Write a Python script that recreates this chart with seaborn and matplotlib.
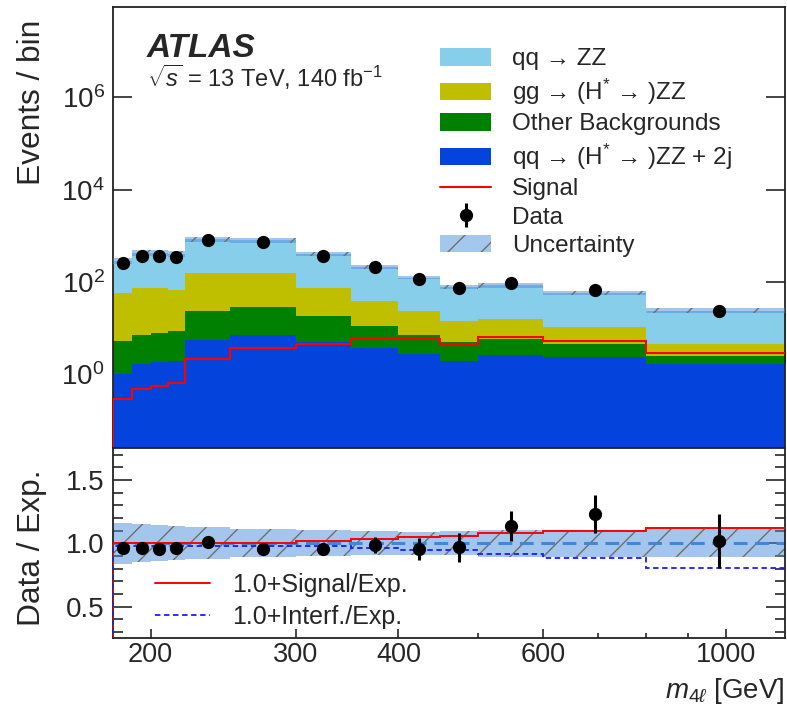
import numpy as np
import pandas as pd
import matplotlib
matplotlib.use("Agg")
import matplotlib.pyplot as plt
import seaborn as sns
from matplotlib.ticker import FixedLocator, NullLocator, NullFormatter, FixedFormatter, MultipleLocator
from matplotlib.patches import Patch
from matplotlib.lines import Line2D

# ---------------- data ----------------
bin_edges = [180, 190, 200, 210, 220, 250, 300, 350, 400, 450, 500, 600, 800, 1200]
process_keys = ["qqZZ", "ggZZ", "other", "qqZZjj"]
process_labels = ["qq → ZZ", "gg → (H$^{*}$ → )ZZ", "Other Backgrounds",
                  "qq → (H$^{*}$ → )ZZ + 2j"]
process_colors = ["#87CEEB", "#BFBF00", "#008000", "#0444DD"]

qq_zz = [233, 352, 352, 341, 690, 645, 325, 176, 102, 64, 69, 48, 19.5]
gg_zz = [52, 66, 65, 60, 137, 126, 56, 28, 16, 9.2, 10, 5.9, 2.0]
other_bkg = [4.3, 5.4, 6.0, 6.7, 18, 22, 13.5, 7.5, 4.3, 3.0, 3.1, 2.1, 0.85]
qq_zz_2j = [1.0, 1.65, 1.85, 1.9, 5.5, 7.0, 5.0, 3.7, 2.7, 1.95, 2.6, 2.4, 1.65]
signal = [0.29, 0.47, 0.56, 0.64, 2.1, 3.7, 4.6, 6.0, 5.7, 4.6, 6.3, 5.3, 2.9]
data_counts = [262, 373, 373, 344, 818, 730, 373, 209, 116, 73, 94, 67, 23.4]
data_err = [16, 19, 19, 19, 29, 27, 19, 14, 11, 8.5, 10, 8, 4.8]
rel_unc = [0.162, 0.151, 0.142, 0.136, 0.128, 0.112, 0.101, 0.096, 0.090, 0.096,
           0.105, 0.108, 0.112]

ratio_data = [0.96, 0.965, 0.955, 0.965, 1.008, 0.955, 0.955, 0.987, 0.955, 0.968,
              1.137, 1.231, 1.018]
ratio_err = [0.045, 0.04, 0.04, 0.04, 0.03, 0.03, 0.04, 0.062, 0.085, 0.113, 0.117,
             0.151, 0.21]
ratio_signal = [1.001, 1.001, 1.001, 1.002, 1.003, 1.005, 1.018, 1.031, 1.047, 1.06,
                1.079, 1.10, 1.123]
ratio_interf = [0.982, 0.982, 0.982, 0.982, 0.982, 0.982, 0.978, 0.96, 0.947, 0.945,
                0.913, 0.887, 0.808]

x_ticks = [200, 300, 400, 600, 1000]
x_minor_ticks = [500, 700, 800, 900]
y_ticks_top = [1e0, 1e2, 1e4, 1e6]

# ---------------- style ----------------
sns.set_style("ticks")
plt.rcParams["font.family"] = ["Liberation Sans", "DejaVu Sans"]
plt.rcParams["mathtext.fontset"] = "custom"
plt.rcParams["mathtext.rm"] = "Liberation Sans"
plt.rcParams["mathtext.it"] = "Liberation Sans:italic"
plt.rcParams["mathtext.bf"] = "Liberation Sans:bold"
plt.rcParams["hatch.linewidth"] = 1.0
plt.rcParams["axes.linewidth"] = 1.3
plt.rcParams["axes.edgecolor"] = "#222222"

edges = np.array(bin_edges, dtype=float)
centers = np.sqrt(edges[:-1] * edges[1:])
components = [np.array(qq_zz), np.array(gg_zz), np.array(other_bkg), np.array(qq_zz_2j)]
total = np.sum(components, axis=0)
unc = np.array(rel_unc)

df = pd.DataFrame({
    "m4l": np.tile(centers, len(process_keys)),
    "w": np.concatenate(components),
    "process": np.repeat(process_keys, len(centers)),
})

fig = plt.figure(figsize=(7.87, 7.16), dpi=100)
ax1 = fig.add_axes([0.1436, 0.3739, 0.8539, 0.6161])
ax2 = fig.add_axes([0.1436, 0.1086, 0.8539, 0.2653])

# ---------------- top panel ----------------
sns.histplot(data=df, x="m4l", weights="w", hue="process", hue_order=process_keys,
             palette=dict(zip(process_keys, process_colors)), bins=list(bin_edges),
             multiple="stack", element="step", fill=True, alpha=1, linewidth=0,
             legend=False, ax=ax1)

band_color = "#4A8FDB"
ax1.stairs(total * (1 + unc), edges, baseline=total * (1 - unc), fill=True,
           facecolor=band_color, alpha=0.5, linewidth=0, zorder=3)
ax1.stairs(total * (1 + unc), edges, baseline=total * (1 - unc), fill=True,
           facecolor="none", edgecolor="#6E6E6E", hatch="/", linewidth=0, zorder=3)
ax1.stairs(signal, edges, color="#FF0000", linewidth=1.5, zorder=4)
data_handle = ax1.errorbar(centers, data_counts, yerr=data_err, fmt="o", color="black",
                           ms=8.5, elinewidth=2.2, capsize=0, zorder=5)

ax1.set_xscale("log")
ax1.set_yscale("log")
ax1.set_xlim(180, 1180)
ax1.set_ylim(0.025, 9e7)
ax1.yaxis.set_major_locator(FixedLocator(y_ticks_top))
ax1.yaxis.set_minor_locator(NullLocator())
ax1.tick_params(axis="y", which="major", direction="in", length=14, width=1.2,
                left=True, right=True, labelsize=20, pad=6)
ax1.tick_params(axis="x", which="both", length=0, labelbottom=False)
ax1.set_xlabel("")
ax1.set_ylabel("Events / bin", fontsize=22.8, loc="top")
ax1.yaxis.set_label_coords(-0.098, 0.971)

ax1.text(0.050, 0.887, "ATLAS", transform=ax1.transAxes, fontsize=24,
         fontweight="bold", fontstyle="italic", va="baseline")
ax1.text(0.050, 0.818, r"$\sqrt{s}$ = 13 TeV, 140 fb$^{-1}$", transform=ax1.transAxes,
         fontsize=17, va="baseline")

handles = [Patch(facecolor=c, edgecolor="none") for c in process_colors]
handles += [Line2D([], [], color="#FF0000", lw=1.5), data_handle,
            Patch(facecolor="#A4C7ED", edgecolor="#6E6E6E", hatch="/", linewidth=0)]
labels = process_labels + ["Signal", "Data", "Uncertainty"]
ax1.legend(handles, labels, loc="upper left", bbox_to_anchor=(0.487, 0.907),
           frameon=False, fontsize=17.5, handlelength=2.1, handleheight=0.72,
           handletextpad=0.85, labelspacing=0.26, borderpad=0, borderaxespad=0)

# ---------------- ratio panel ----------------
ax2.stairs(1 + unc, edges, baseline=1 - unc, fill=True, facecolor=band_color,
           alpha=0.5, linewidth=0, zorder=1)
ax2.stairs(1 + unc, edges, baseline=1 - unc, fill=True, facecolor="none",
           edgecolor="#6E6E6E", hatch="/", linewidth=0, zorder=1)
ax2.axhline(1.0, color="#3F88D8", lw=2.2, ls=(0, (4.5, 2.5)), zorder=2)
ax2.stairs(ratio_signal, edges, color="#FF0000", linewidth=1.4, zorder=3)
ax2.stairs(ratio_interf, edges, color="#1A1AFF", linewidth=1.3, linestyle=(0, (3, 2)),
           zorder=3)
ax2.errorbar(centers, ratio_data, yerr=ratio_err, fmt="o", color="black", ms=8.5,
             elinewidth=2.2, capsize=0, zorder=5)

ax2.set_xscale("log")
ax2.set_xlim(180, 1180)
ax2.set_ylim(0.25, 1.75)
ax2.xaxis.set_major_locator(FixedLocator(x_ticks))
ax2.xaxis.set_major_formatter(FixedFormatter([str(t) for t in x_ticks]))
ax2.xaxis.set_minor_locator(FixedLocator(x_minor_ticks))
ax2.xaxis.set_minor_formatter(NullFormatter())
ax2.yaxis.set_major_locator(FixedLocator([0.5, 1.0, 1.5]))
ax2.yaxis.set_minor_locator(MultipleLocator(0.1))
ax2.tick_params(axis="y", which="major", direction="in", length=14, width=1.2,
                left=True, right=True, labelsize=20, pad=6)
ax2.tick_params(axis="y", which="minor", direction="in", length=7, width=1.2,
                left=True, right=True)
ax2.tick_params(axis="x", which="major", direction="in", length=6.5, width=1.2,
                bottom=True, top=False, labelsize=19.5, pad=2.5)
ax2.tick_params(axis="x", which="minor", direction="in", length=3.5, width=1.2,
                bottom=True, top=False)
ax2.set_ylabel("Data / Exp.", fontsize=22.8)
ax2.yaxis.set_label_coords(-0.098, 0.475)
ax2.set_xlabel(r"$m_{4\ell}$ [GeV]", fontsize=20, loc="right", labelpad=6)

lh = [Line2D([], [], color="#FF0000", lw=1.4),
      Line2D([], [], color="#1A1AFF", lw=1.3, ls=(0, (3, 2)))]
ax2.legend(lh, ["1.0+Signal/Exp.", "1.0+Interf./Exp."], loc="lower left",
           bbox_to_anchor=(0.062, 0.05), frameon=False, fontsize=18,
           handlelength=2.2, handletextpad=0.9, labelspacing=0.3, borderpad=0,
           borderaxespad=0)

for ax in (ax1, ax2):
    for s in ax.spines.values():
        s.set_visible(True)

fig.savefig("out.png", dpi=100)
